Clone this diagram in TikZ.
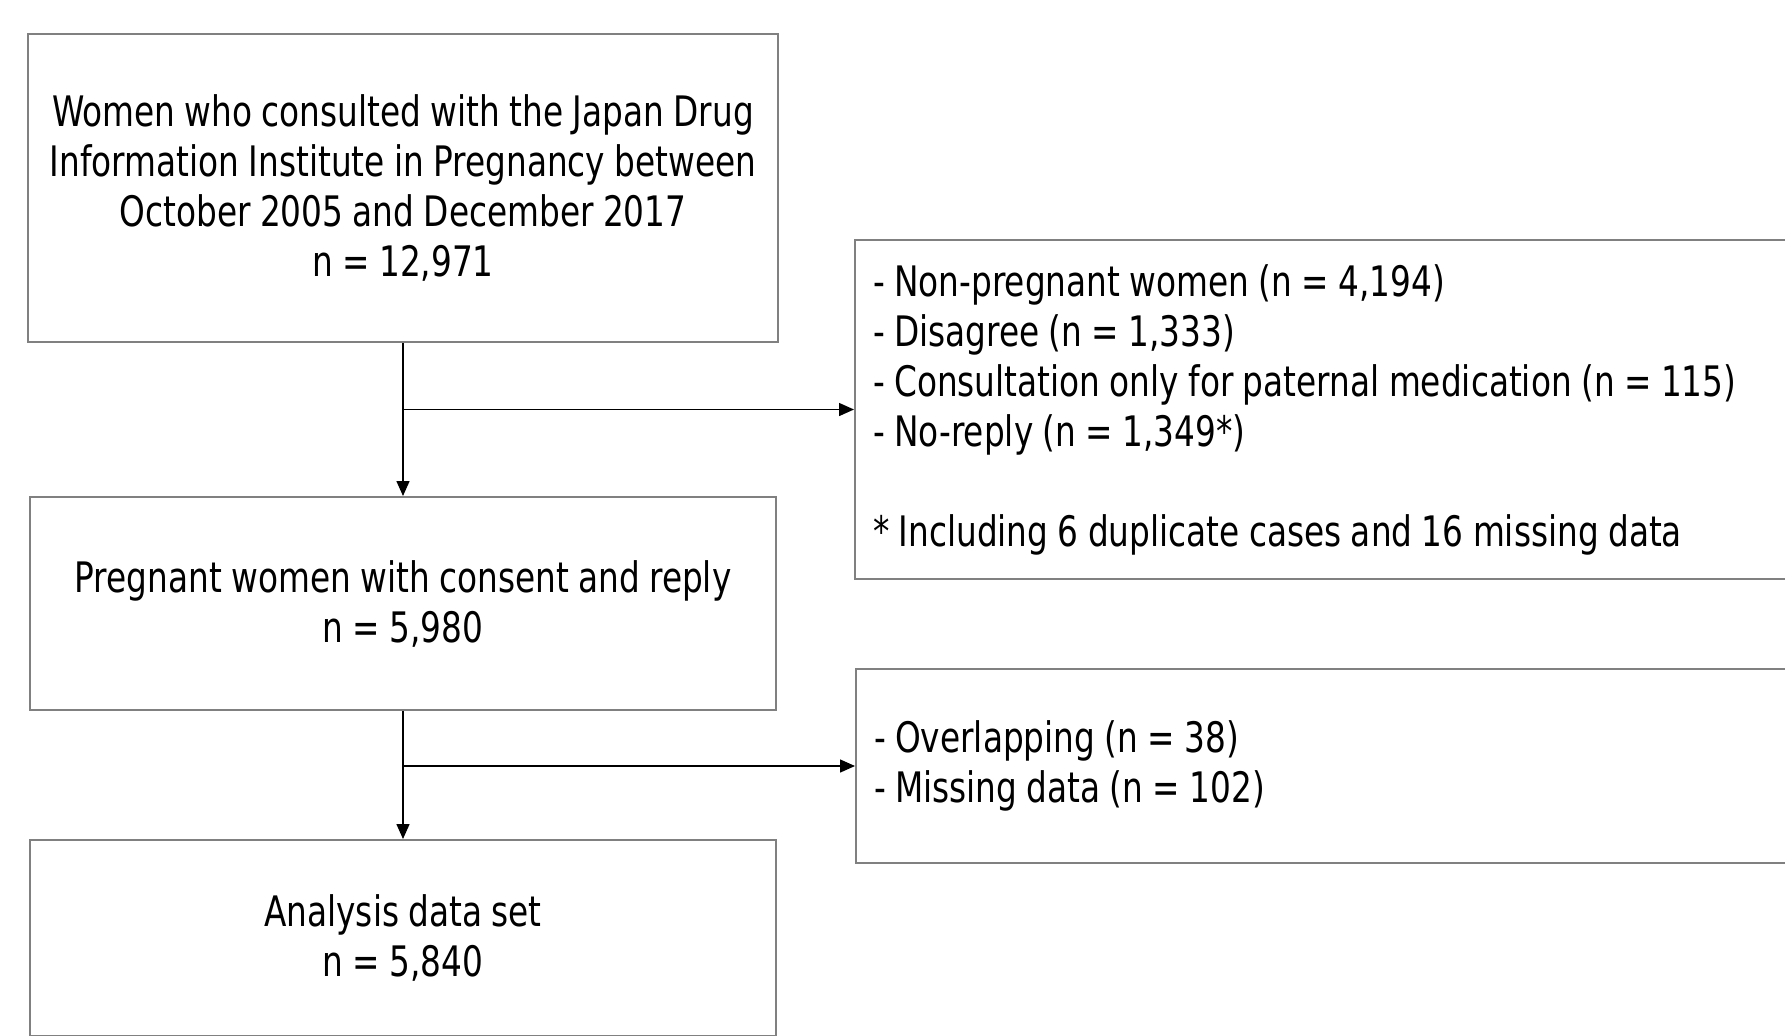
\documentclass[tikz,border=0pt]{standalone}
\usepackage{fontspec}
\setmainfont{DejaVu Sans}[FakeStretch=0.78,WordSpace=0.9]
\usetikzlibrary{arrows.meta}

\begin{document}
\begin{tikzpicture}[x=0.5pt,y=-0.5pt,
  box/.style={draw=black!50,line width=1pt,rectangle,inner sep=0pt,align=flush center,
    font=\fontsize{21}{25}\selectfont},
  listbox/.style={box,align=flush left,inner xsep=9pt,text width=452pt},
  arr/.style={line width=0.75pt,-{Triangle[length=7.5pt,width=6.5pt]}}]
\useasboundingbox (0,0) rectangle (1785,1035);
\fill[white] (0,0) rectangle (1785,1035);
\node[box,minimum width=375pt,minimum height=154pt] (all) at (403,188)
  {Women who consulted with the Japan Drug\\Information Institute in Pregnancy between\\October 2005 and December 2017\\n = 12,971};
\node[box,minimum width=373pt,minimum height=106.5pt] (preg) at (403,603.5)
  {Pregnant women with consent and reply\\n = 5,980};
\node[box,minimum width=373pt,minimum height=98pt] (ana) at (403,938)
  {Analysis data set\\n = 5,840};
\node[listbox,minimum height=169.5pt] (excl1) at (1325,409.5)
  {- Non-pregnant women (n = 4,194)\\- Disagree (n = 1,333)\\- Consultation only for paternal medication (n = 115)\\- No-reply (n = 1,349*)\\[25pt]* Including 6 duplicate cases and 16 missing data};
\node[listbox,minimum height=97pt] (excl2) at (1326,766)
  {- Overlapping (n = 38)\\- Missing data (n = 102)};
\coordinate (s1) at (all.south |- excl1.west);
\coordinate (s2) at (preg.south |- excl2.west);
\draw[arr] (all.south) -- (preg.north);
\draw[arr] (s1) -- (excl1.west);
\draw[arr] (preg.south) -- (ana.north);
\draw[arr] (s2) -- (excl2.west);
\end{tikzpicture}
\end{document}
